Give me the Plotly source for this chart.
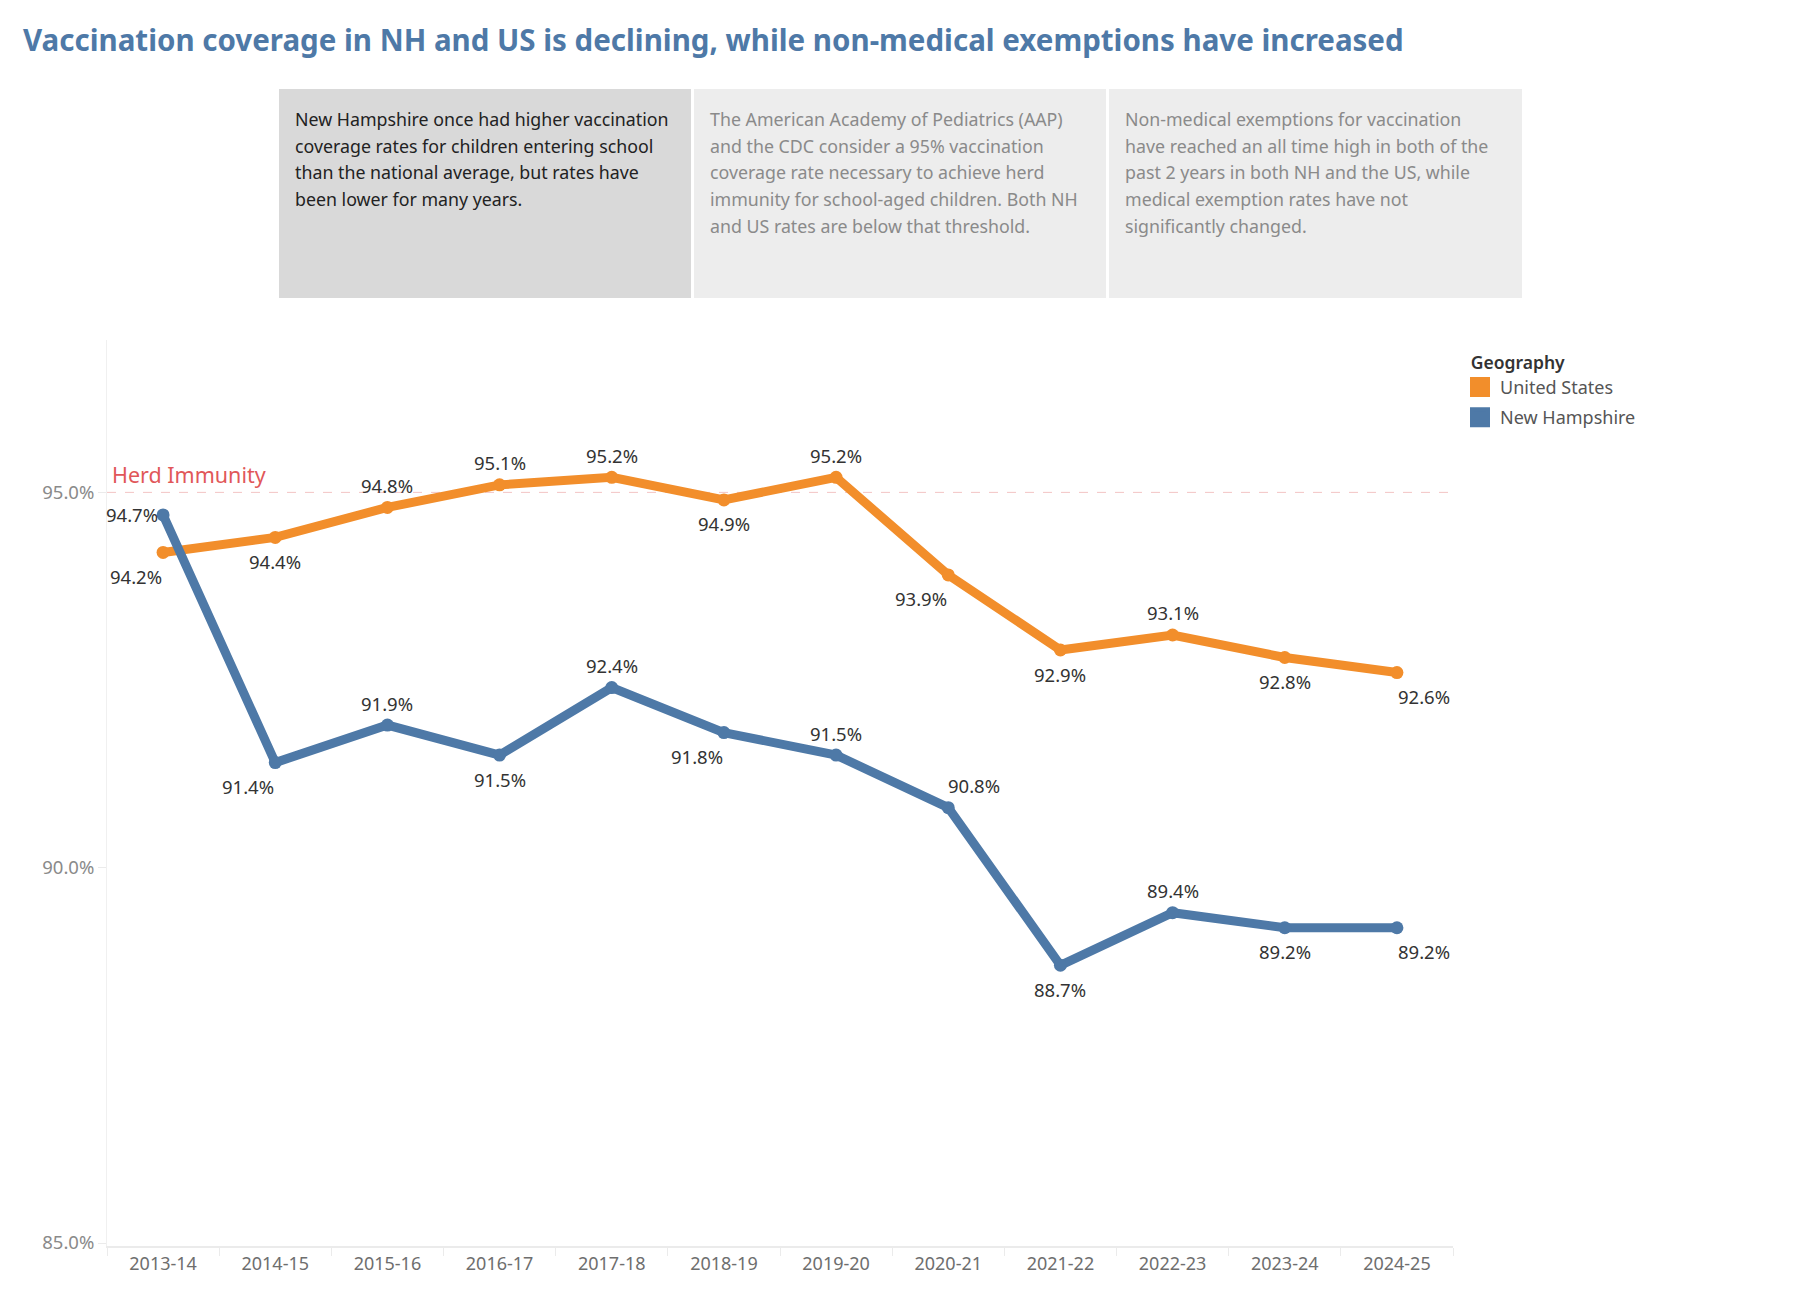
import plotly.graph_objects as go

# ---------------- data ----------------
years = ["2013-14", "2014-15", "2015-16", "2016-17", "2017-18", "2018-19",
         "2019-20", "2020-21", "2021-22", "2022-23", "2023-24", "2024-25"]
us_rate = [94.2, 94.4, 94.8, 95.1, 95.2, 94.9, 95.2, 93.9, 92.9, 93.1, 92.8, 92.6]
nh_rate = [94.7, 91.4, 91.9, 91.5, 92.4, 91.8, 91.5, 90.8, 88.7, 89.4, 89.2, 89.2]
herd_threshold = 95.0
y_ticks = [85.0, 90.0, 95.0]

title_text = "Vaccination coverage in NH and US is declining, while non-medical exemptions have increased"
box_texts = [
    ["New Hampshire once had higher vaccination",
     "coverage rates for children entering school",
     "than the national average, but rates have",
     "been lower for many years."],
    ["The American Academy of Pediatrics (AAP)",
     "and the CDC consider a 95% vaccination",
     "coverage rate necessary to achieve herd",
     "immunity for school-aged children. Both NH",
     "and US rates are below that threshold."],
    ["Non-medical exemptions for vaccination",
     "have reached an all time high in both of the",
     "past 2 years in both NH and the US, while",
     "medical exemption rates have not",
     "significantly changed."],
]

# label placement per point
us_label_pos = ["bl", "b", "t", "t", "t", "b", "t", "bl", "b", "t", "b", "br"]
nh_label_pos = ["l", "bl", "t", "b", "t", "bl", "t", "tr", "b", "t", "b", "br"]

# ---------------- style ----------------
FONT = "Noto Sans"
US_COLOR = "#F28E2B"
NH_COLOR = "#4E79A7"
PAGE_W, PAGE_H = 1799, 1308
OFF = 8                      # default page body margin
W, H = PAGE_W - 2 * OFF, PAGE_H - 2 * OFF
# plot area in page px
L, R, T, B = 107, 1453, 340, 1246

offsets = {"t": (0, 22), "b": (0, -24), "bl": (-27, -24), "br": (27, -24),
           "l": (-31, 0), "tr": (26, 22)}


def px_x(px):
    return (px - L) / (R - L)


def px_y(py):
    return (B - py) / (B - T)


fig = go.Figure()

fig.add_trace(go.Scatter(
    x=years, y=us_rate, mode="lines+markers", name="United States",
    line=dict(color=US_COLOR, width=9), marker=dict(size=13, color=US_COLOR),
    showlegend=False, hovertemplate="%{x}: %{y:.1f}%<extra>United States</extra>"))
fig.add_trace(go.Scatter(
    x=years, y=nh_rate, mode="lines+markers", name="New Hampshire",
    line=dict(color=NH_COLOR, width=9), marker=dict(size=13, color=NH_COLOR),
    showlegend=False, hovertemplate="%{x}: %{y:.1f}%<extra>New Hampshire</extra>"))

# legend entries (square swatches)
for nm, col in [("United States", US_COLOR), ("New Hampshire", NH_COLOR)]:
    fig.add_trace(go.Scatter(
        x=[None], y=[None], mode="markers", name=nm, legendgroup=nm,
        marker=dict(symbol="square", size=16, color=col, line=dict(color=col, width=4))))

annotations = []
# data labels
for vals, poss in [(us_rate, us_label_pos), (nh_rate, nh_label_pos)]:
    for yr, v, p in zip(years, vals, poss):
        dx, dy = offsets[p]
        annotations.append(dict(
            x=yr, y=v, xref="x", yref="y", text=f"{v:.1f}%", showarrow=False,
            xshift=dx, yshift=dy, font=dict(family=FONT, size=18.5, color="#333333")))

# herd immunity label
annotations.append(dict(
    x=px_x(110), y=herd_threshold, xref="paper", yref="y", text="Herd Immunity",
    showarrow=False, xanchor="left", yanchor="middle", yshift=18,
    font=dict(family=FONT, size=21.5, color="#E15759")))

# text boxes
box_lefts = [279, 694, 1109]
box_rights = [691, 1106, 1522]
box_fill = ["#D9D9D9", "#EDEDED", "#EDEDED"]
box_font_col = ["#222222", "#8A8A8A", "#8A8A8A"]
shapes = []
for i, lines in enumerate(box_texts):
    shapes.append(dict(
        type="rect", xref="paper", yref="paper",
        x0=px_x(box_lefts[i]), x1=px_x(box_rights[i]),
        y0=px_y(298), y1=px_y(89), fillcolor=box_fill[i], line=dict(width=0),
        layer="below"))
    for j, ln in enumerate(lines):
        annotations.append(dict(
            x=px_x(box_lefts[i] + 14), y=px_y(119 + j * 26.7), xref="paper", yref="paper",
            text=ln, showarrow=False, xanchor="left", yanchor="middle",
            font=dict(family=FONT, size=17.8, color=box_font_col[i])))

# herd immunity line
shapes.append(dict(
    type="line", xref="paper", yref="y", x0=0, x1=1, y0=herd_threshold, y1=herd_threshold,
    line=dict(color="#F3C4C4", width=1, dash="dash"), layer="below"))

fig.update_layout(
    width=W, height=H,
    margin=dict(l=L - OFF, r=W - (R - OFF), t=T - OFF, b=H - (B - OFF), pad=0),
    paper_bgcolor="white", plot_bgcolor="white",
    font=dict(family=FONT, color="#333333"),
    title=dict(text=f"<b>{title_text}</b>", x=(23 - OFF) / W, xref="container", xanchor="left",
               y=1 - (41 - OFF) / H, yref="container", yanchor="middle",
               font=dict(family=FONT, size=29.5, color="#4E79A7")),
    showlegend=True,
    legend=dict(
        title=dict(text="\u2002Geography", font=dict(family=FONT, size=17.5, color="#333333", weight=600)),
        x=px_x(1460), y=px_y(346), xanchor="left", yanchor="top",
        traceorder="grouped", tracegroupgap=4,
        font=dict(family=FONT, size=18, color="#555555"),
        bgcolor="rgba(0,0,0,0)", borderwidth=0, itemclick=False, itemdoubleclick=False),
    xaxis=dict(
        type="category", categoryorder="array", categoryarray=years,
        range=[-0.5, len(years) - 0.5], showgrid=False, zeroline=False,
        showline=True, linecolor="#EBEBEB", linewidth=2,
        ticks="outside", tickson="boundaries", ticklen=8, tickcolor="#EBEBEB", tickwidth=1,
        tickfont=dict(family=FONT, size=18, color="#6E6E6E"), fixedrange=True),
    yaxis=dict(
        range=[84.96, 97.03], tickvals=y_ticks, ticktext=[f"{v:.1f}%" for v in y_ticks],
        showgrid=False, zeroline=False, showline=True, linecolor="#F0F0F0", linewidth=1,
        ticks="outside", ticklen=8, tickcolor="#EBEBEB",
        tickfont=dict(family=FONT, size=18.5, color="#8A8A8A"), fixedrange=True),
    annotations=annotations,
    shapes=shapes,
)

fig.write_html("out.html")
